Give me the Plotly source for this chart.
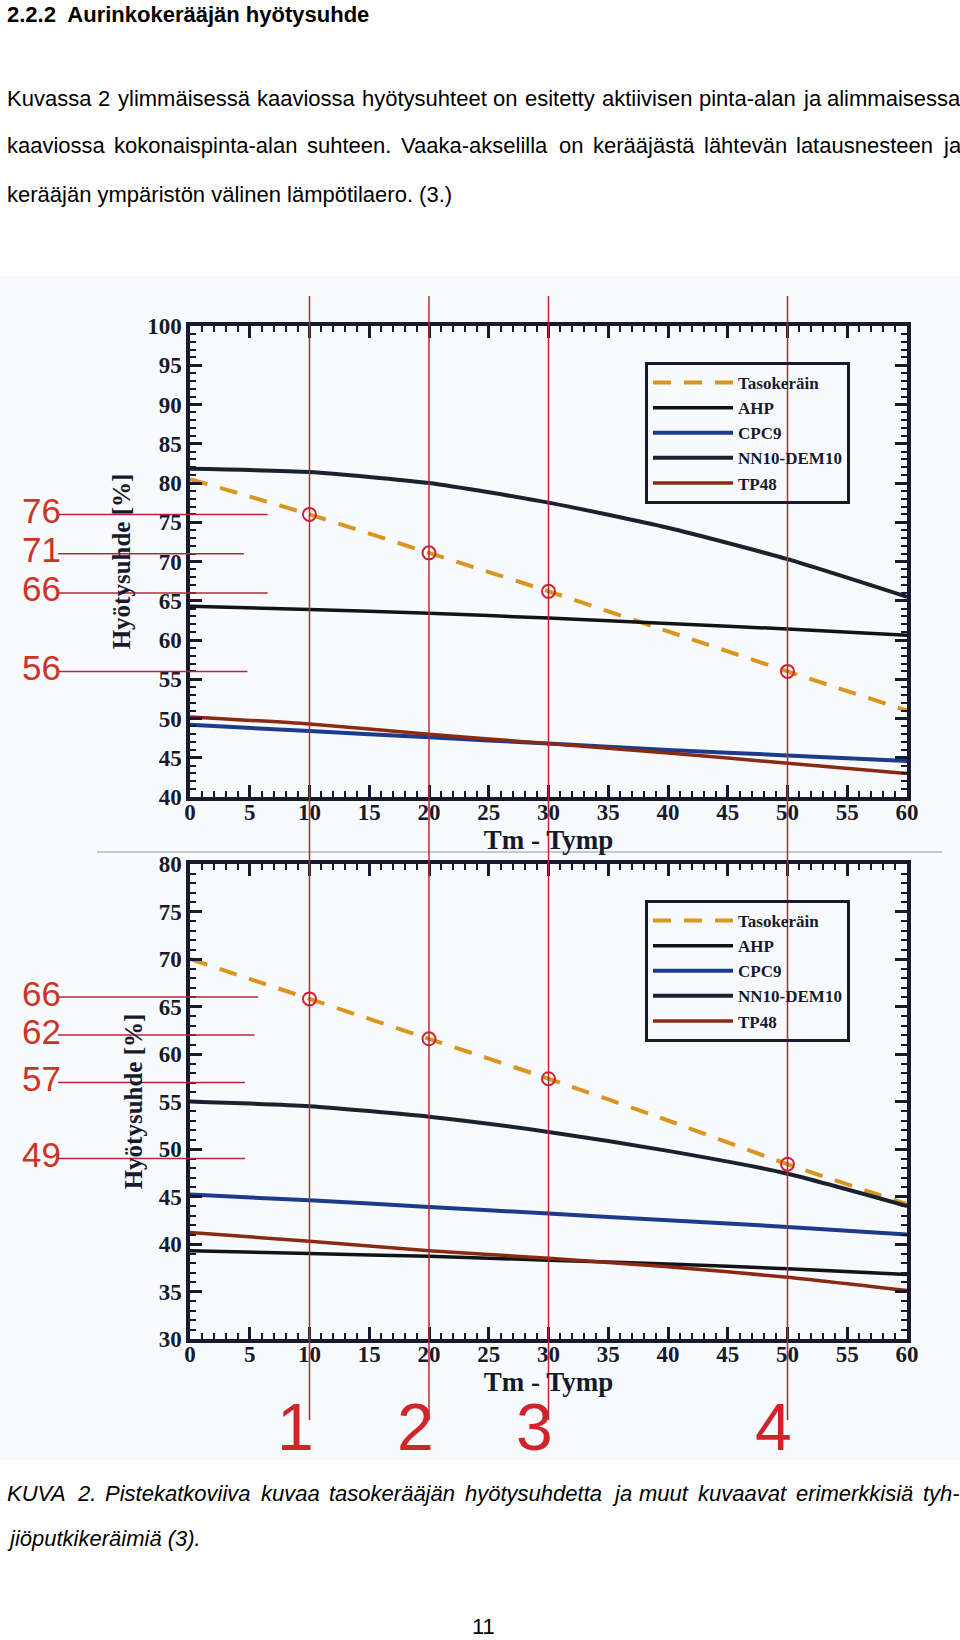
import plotly.graph_objects as go

# ---------------- data ----------------
x_vals = [0, 10, 20, 30, 40, 50, 60]

series_names = ["Tasokeräin", "AHP", "CPC9", "NN10-DEM10", "TP48"]

# top chart: aktiivinen pinta-ala
top_taso = [80.5, 76.0, 71.1, 66.2, 61.1, 56.0, 51.0]
top_ahp = [64.3, 63.9, 63.4, 62.8, 62.1, 61.4, 60.6]
top_cpc9 = [49.2, 48.4, 47.6, 46.8, 46.0, 45.3, 44.6]
top_nn = [81.8, 81.4, 80.0, 77.5, 74.3, 70.3, 65.5]
top_tp48 = [50.2, 49.3, 48.0, 46.8, 45.6, 44.3, 43.0]

# bottom chart: kokonaispinta-ala
bot_taso = [70.0, 65.8, 61.6, 57.4, 53.0, 48.4, 44.2]
bot_ahp = [39.3, 39.0, 38.7, 38.3, 37.9, 37.4, 36.8]
bot_cpc9 = [45.2, 44.6, 43.9, 43.2, 42.5, 41.8, 41.0]
bot_nn = [55.0, 54.5, 53.4, 51.8, 49.8, 47.4, 44.0]
bot_tp48 = [41.2, 40.3, 39.3, 38.5, 37.6, 36.5, 35.1]

marker_x = [10, 20, 30, 50]
marker_digits = ["1", "2", "3", "4"]
top_labels = [76, 71, 66, 56]
bot_labels = [66, 62, 57, 49]

x_ticks = list(range(0, 61, 5))
top_y_ticks = list(range(40, 101, 5))
bot_y_ticks = list(range(30, 81, 5))

title_text = "2.2.2  Aurinkokerääjän hyötysuhde"
para_lines = [
    ("Kuvassa 2 ylimmäisessä kaaviossa hyötysuhteet on esitetty aktiivisen pinta-alan ja alimmaisessa", True),
    ("kaaviossa kokonaispinta-alan suhteen. Vaaka-akselilla on kerääjästä lähtevän latausnesteen ja", True),
    ("kerääjän ympäristön välinen lämpötilaero. (3.)", False),
]
caption_lines = [
    ("KUVA 2. Pistekatkoviiva kuvaa tasokerääjän hyötysuhdetta ja muut kuvaavat erimerkkisiä tyh-", True),
    ("jiöputkikeräimiä (3).", False),
]
page_number = "11"
x_title = "Tm - Tymp"
y_title = "Hyötysuhde [%]"

# ---------------- geometry ----------------
W, H = 960, 1640
def fx(p):
    return p / W
def fy(p):
    return 1 - p / H

X_DOM = [fx(190), fx(907)]
TOP_DOM = [fy(797), fy(326)]
BOT_DOM = [fy(1339), fy(864)]

INK = "#161a2c"
RED = "#cc3428"
RED_LINE = "#b02a3a"
SANS = "Liberation Sans Narrow, Arial Narrow, Liberation Sans, Arial, sans-serif"
SERIF = "Liberation Serif, Times New Roman, serif"

styles = {
    "Tasokeräin": dict(color="#d8951f", width=4, dash="18px,13px"),
    "AHP": dict(color="#111318", width=3.5),
    "CPC9": dict(color="#1d3b8c", width=4),
    "NN10-DEM10": dict(color="#1a2230", width=4),
    "TP48": dict(color="#8a2a12", width=3.5),
}

fig = go.Figure()

def add_chart(vals, xa, ya, legend):
    for name, yv in zip(series_names, vals):
        fig.add_trace(go.Scatter(
            x=x_vals, y=yv, mode="lines", name=name,
            line=dict(shape="spline", smoothing=0.6, **styles[name]),
            xaxis=xa, yaxis=ya, legend=legend, showlegend=True,
            hoverinfo="skip",
        ))
    taso = vals[0]
    lookup = dict(zip(x_vals, taso))
    fig.add_trace(go.Scatter(
        x=marker_x, y=[lookup[v] for v in marker_x], mode="markers",
        marker=dict(symbol="circle-open", size=13, color="#d42030", line=dict(width=2)),
        xaxis=xa, yaxis=ya, showlegend=False, hoverinfo="skip",
    ))

add_chart([top_taso, top_ahp, top_cpc9, top_nn, top_tp48], "x", "y", "legend")
add_chart([bot_taso, bot_ahp, bot_cpc9, bot_nn, bot_tp48], "x2", "y2", "legend2")

axis_common = dict(
    showline=True, linecolor=INK, linewidth=3.5, mirror="allticks",
    ticks="inside", ticklen=12, tickwidth=2.5, tickcolor=INK,
    minor=dict(ticks="inside", ticklen=6, tickwidth=2.2, tickcolor=INK, dtick=1),
    showgrid=False, zeroline=False, automargin=False,
    tickfont=dict(family=SERIF, size=23, color=INK, weight="bold"),
)
xt_font = dict(family=SERIF, size=27, color=INK, weight="bold")
yt_font = dict(family=SERIF, size=25, color=INK, weight="bold")

fig.update_layout(
    width=W, height=H,
    margin=dict(l=0, r=0, t=0, b=0),
    paper_bgcolor="white",
    plot_bgcolor="rgba(0,0,0,0)",
    xaxis=dict(domain=X_DOM, range=[0, 60], anchor="y", tickvals=x_ticks, ticklabelstandoff=-8,
               title=dict(text=x_title, standoff=0, font=xt_font), **axis_common),
    yaxis=dict(domain=TOP_DOM, range=[40, 100], anchor="x", tickvals=top_y_ticks,
               title=dict(text=y_title, standoff=10, font=yt_font), **axis_common),
    xaxis2=dict(domain=X_DOM, range=[0, 60], anchor="y2", tickvals=x_ticks, ticklabelstandoff=-8,
                title=dict(text=x_title, standoff=0, font=xt_font), **axis_common),
    yaxis2=dict(domain=BOT_DOM, range=[30, 80], anchor="x2", tickvals=bot_y_ticks,
                title=dict(text=y_title, standoff=10, font=yt_font), **axis_common),
    showlegend=True,
)

legend_common = dict(
    x=fx(645), xanchor="left", yanchor="top",
    bgcolor="rgba(255,255,255,0)", bordercolor=INK, borderwidth=3,
    font=dict(family=SERIF, size=17, color=INK, weight="bold"),
    itemwidth=80, tracegroupgap=0, traceorder="normal",
)
fig.update_layout(
    legend=dict(y=fy(362), **legend_common),
    legend2=dict(y=fy(900), **legend_common),
)

shapes = []
# faint scan tint
shapes.append(dict(type="rect", xref="paper", yref="paper", x0=0, x1=1,
                   y0=fy(1460), y1=fy(276), fillcolor="#f9fafd", line=dict(width=0),
                   layer="below"))
# separator line between the charts
shapes.append(dict(type="line", xref="paper", yref="paper", x0=fx(97), x1=fx(942),
                   y0=fy(852), y1=fy(852), line=dict(color="#8a98b0", width=1.2)))
# red vertical guide lines
for xv in marker_x:
    shapes.append(dict(type="line", xref="x", yref="paper", x0=xv, x1=xv,
                       y0=fy(296), y1=fy(1420), line=dict(color=RED_LINE, width=1.5)))

def dom_frac(xv):
    return X_DOM[0] + (xv - 0) / 60 * (X_DOM[1] - X_DOM[0])

annotations = []
top_ends = [6.5, 4.5, 6.5, 4.8]
bot_ends = [5.7, 5.4, 4.6, 4.6]
for yref, labels, ends in (("y", top_labels, top_ends), ("y2", bot_labels, bot_ends)):
    for v, e in zip(labels, ends):
        shapes.append(dict(type="line", xref="paper", yref=yref, x0=fx(58), x1=dom_frac(e),
                           y0=v, y1=v, line=dict(color=RED_LINE, width=1.5)))
        annotations.append(dict(xref="paper", yref=yref, x=fx(20), y=v, yshift=4,
                                xanchor="left", yanchor="middle", showarrow=False,
                                text=str(v), font=dict(family="Liberation Sans, Arial, sans-serif",
                                                       size=35, color=RED)))

# big red digits under the guide lines
for xv, d in zip(marker_x, marker_digits):
    annotations.append(dict(xref="x2", yref="paper", x=xv, xshift=-14, y=fy(1427),
                            xanchor="center", yanchor="middle", showarrow=False, text=d,
                            font=dict(family="Liberation Sans, Arial, sans-serif", size=66,
                                      color="#d0232a")))

# ---- document text (justified using Arial/Liberation Sans advance widths) ----
ARIAL_W = {" ": 278, "a": 556, "b": 556, "c": 500, "d": 556, "e": 556, "f": 278, "g": 556,
           "h": 556, "i": 222, "j": 222, "k": 500, "l": 222, "m": 833, "n": 556, "o": 556,
           "p": 556, "q": 556, "r": 333, "s": 500, "t": 278, "u": 556, "v": 500, "w": 722,
           "x": 500, "y": 500, "z": 500, "ä": 556, "ö": 556,
           "A": 667, "K": 667, "U": 722, "V": 667, "P": 667,
           ".": 278, ",": 278, "-": 333, "(": 333, ")": 333}

def text_w(s, size):
    return sum(ARIAL_W.get(c, 556) for c in s) * size / 1000.0

TEXT_SIZE = 22
LEFT, RIGHT = 5, 958

def place_line(text, justify, yy, style=None):
    font = dict(family=SANS, size=TEXT_SIZE, color="black")
    if style:
        font["style"] = style
    if not justify:
        annotations.append(dict(xref="paper", yref="paper", x=fx(LEFT), y=fy(yy), xanchor="left",
                                yanchor="middle", showarrow=False, text=text, font=font))
        return
    words = text.split(" ")
    widths = [text_w(w, TEXT_SIZE) for w in words]
    gap = (RIGHT - LEFT - sum(widths)) / (len(words) - 1)
    xpos = LEFT
    for w, wd in zip(words, widths):
        annotations.append(dict(xref="paper", yref="paper", x=fx(xpos), y=fy(yy), xanchor="left",
                                yanchor="middle", showarrow=False, text=w, font=font))
        xpos += wd + gap

annotations.append(dict(xref="paper", yref="paper", x=fx(5), y=fy(14), xanchor="left",
                        yanchor="middle", showarrow=False, text=title_text,
                        font=dict(family=SANS, size=22, color="black", weight="bold")))
for (txt, just), yy in zip(para_lines, [98, 146, 194]):
    place_line(txt, just, yy)
for (txt, just), yy in zip(caption_lines, [1493, 1538]):
    place_line(txt, just, yy, style="italic")
annotations.append(dict(xref="paper", yref="paper", x=fx(483), y=fy(1626), xanchor="center",
                        yanchor="middle", showarrow=False, text=page_number,
                        font=dict(family=SANS, size=22, color="black")))

fig.update_layout(shapes=shapes, annotations=annotations)

fig.write_html("out.html")
